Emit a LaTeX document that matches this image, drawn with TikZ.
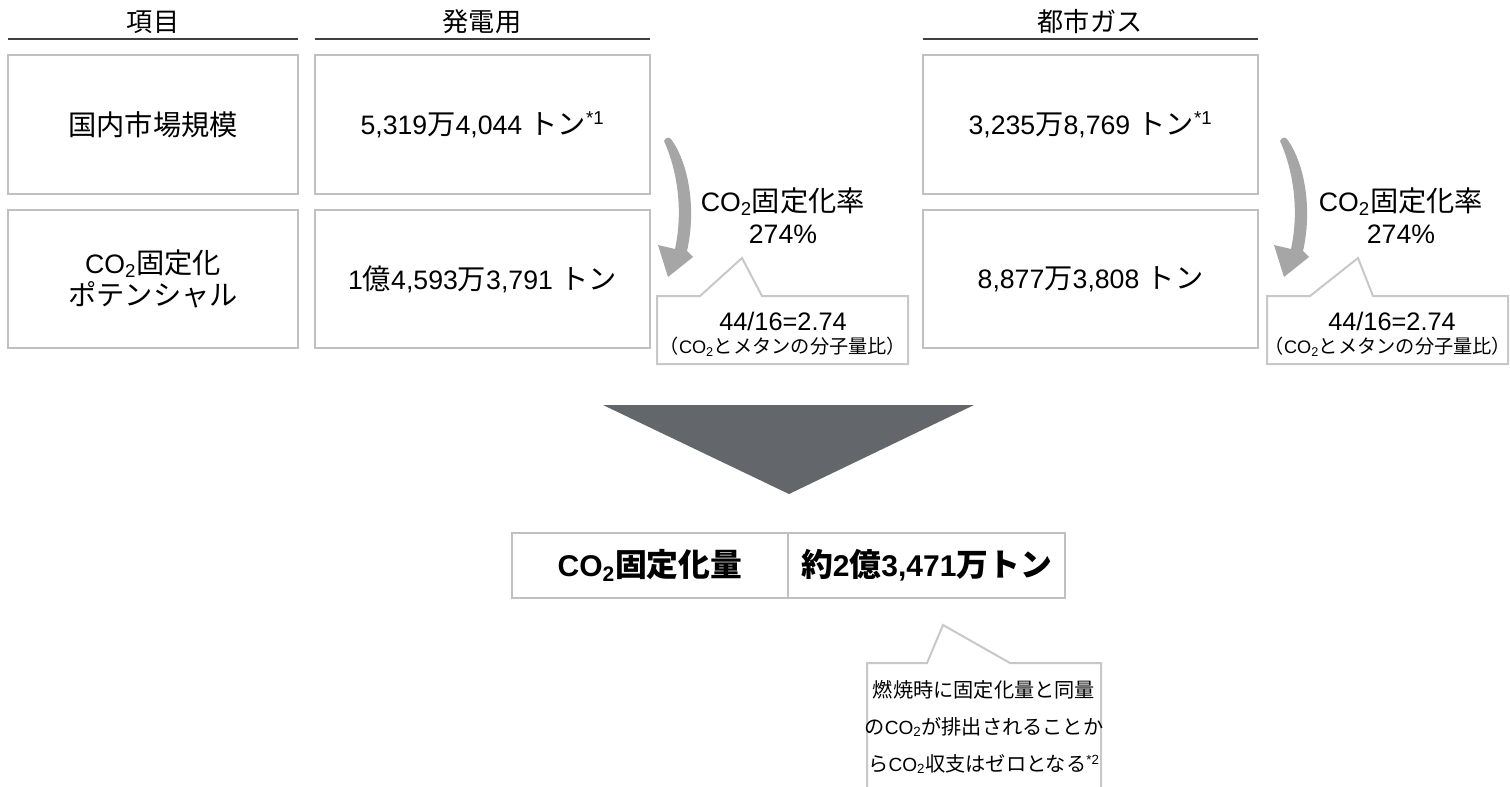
\documentclass[tikz,border=0pt]{standalone}
\usepackage{fontspec}
\setmainfont{Liberation Sans}
\newfontfamily\jpf[Scale=1.06]{Noto Sans CJK JP}
\newcommand\jj[1]{{\jpf #1}}
\newcommand\cotwo{CO\textsubscript{2}}
\definecolor{boxgray}{HTML}{C0C0C0}
\definecolor{callgray}{HTML}{C8C8C8}
\definecolor{arrowgray}{HTML}{A6A6A6}
\definecolor{trigray}{HTML}{63666A}
\definecolor{hdrline}{HTML}{404040}
\tikzset{
  cell/.style={draw=boxgray, line width=1.8pt, inner sep=0pt, align=center,
    font=\fontsize{20}{24}\selectfont},
  wcol/.style={minimum width=217.5pt},
  vcol/.style={minimum width=251.25pt},
  rowh/.style={minimum height=103.9pt},
  hdrtext/.style={inner sep=0pt, font=\fontsize{18.5}{24}\selectfont},
  hdr/.style={draw=hdrline, line width=1.4pt},
  callout/.style={draw=callgray, line width=1.5pt, fill=white, line join=miter},
  calltext/.style={inner sep=0pt, align=center},
  ratetext/.style={inner sep=0pt, align=center, font=\fontsize{20}{24}\selectfont},
  res/.style={draw=boxgray, line width=1.8pt, inner sep=0pt, minimum height=48.75pt,
    font=\fontsize{22.5}{26}\selectfont\bfseries},
  bendarrow/.style={fill=arrowgray}
}
\begin{document}
\begin{tikzpicture}[x=0.75pt, y=-0.75pt]
\useasboundingbox (0,0) rectangle (1510,786);

% headers
\node[hdrtext] (h1) at (153,22) {\jj{項目}};
\node[hdrtext] (h2) at (482,22) {\jj{発電用}};
\node[hdrtext] (h3) at (1090,22) {\jj{都市ガス}};
\draw[hdr] (8,39) -- (298,39);
\draw[hdr] (315,39) -- (650,39);
\draw[hdr] (923,39) -- (1258,39);

% table cells
\node[cell, wcol, rowh] (c11) at (153,124.5) {\jj{国内市場規模}};
\node[cell, vcol, rowh] (c12) at (482.5,124.5) {5,319\jj{万}4,044 \jj{トン}\textsuperscript{*1}};
\node[cell, wcol, rowh] (c21) at (153,279) {\cotwo\jj{固定化}\\\jj{ポテンシャル}};
\node[cell, vcol, rowh] (c22) at (482.5,279) {1\jj{億}4,593\jj{万}3,791 \jj{トン}};
\node[cell, vcol, rowh] (c13) at (1090.5,124.5) {3,235\jj{万}8,769 \jj{トン}\textsuperscript{*1}};
\node[cell, vcol, rowh] (c23) at (1090.5,279) {8,877\jj{万}3,808 \jj{トン}};

% bent arrows
\foreach \s in {0,616} {
\begin{scope}[shift={(\s,0)}]
\fill[bendarrow] (664,141) .. controls (666,137) and (669,137) .. (671,139)
  .. controls (690,165) and (696,212) .. (687,251)
  -- (693,257) -- (668,277) -- (658,245) -- (675,249)
  .. controls (683,212) and (678,172) .. (664,141) -- cycle;
\end{scope}
}

% rate labels
\node[ratetext] (r1) at (783,216) {\cotwo\jj{固定化率}\\274\%};
\node[ratetext] (r2) at (1401,216) {\cotwo\jj{固定化率}\\274\%};

% callouts
\draw[callout] (657,296) -- (700,296) -- (742,258) -- (762,296) -- (908,296)
  -- (908,364) -- (657,364) -- cycle;
\node[calltext, font=\fontsize{19}{22}\selectfont] (k1a) at (783,321) {44/16=2.74};
\node[calltext, font=\fontsize{13.6}{18}\selectfont] (k1b) at (783,347) {\jj{（}\cotwo\jj{とメタンの分子量比）}};

\draw[callout] (1267,296) -- (1310,296) -- (1358,258) -- (1373,296) -- (1508,296)
  -- (1508,364) -- (1267,364) -- cycle;
\node[calltext, font=\fontsize{19}{22}\selectfont] (k2a) at (1392,321) {44/16=2.74};
\node[calltext, font=\fontsize{13.6}{18}\selectfont] (k2b) at (1388,347) {\jj{（}\cotwo\jj{とメタンの分子量比）}};

% big down triangle
\fill[trigray] (603,405) -- (974,405) -- (789,494) -- cycle;

% result
\node[res, minimum width=207pt] (rl) at (650,565.5) {\cotwo\jj{固定化量}};
\node[res, minimum width=207.75pt] (rr) at (926.5,565.5) {\jj{約}2\jj{億}3,471\jj{万トン}};

% bottom callout
\draw[callout] (867,790) -- (867,663) -- (927,663) -- (943,625) -- (1010,663)
  -- (1101,663) -- (1101,790);
\node[calltext, font=\fontsize{14.3}{27.75}\selectfont] (note) at (984,727)
  {\jj{燃焼時に固定化量と同量}\\\jj{の}\cotwo\jj{が排出されることか}\\\jj{ら}\cotwo\jj{収支はゼロとなる}\textsuperscript{*2}};
\end{tikzpicture}
\end{document}
